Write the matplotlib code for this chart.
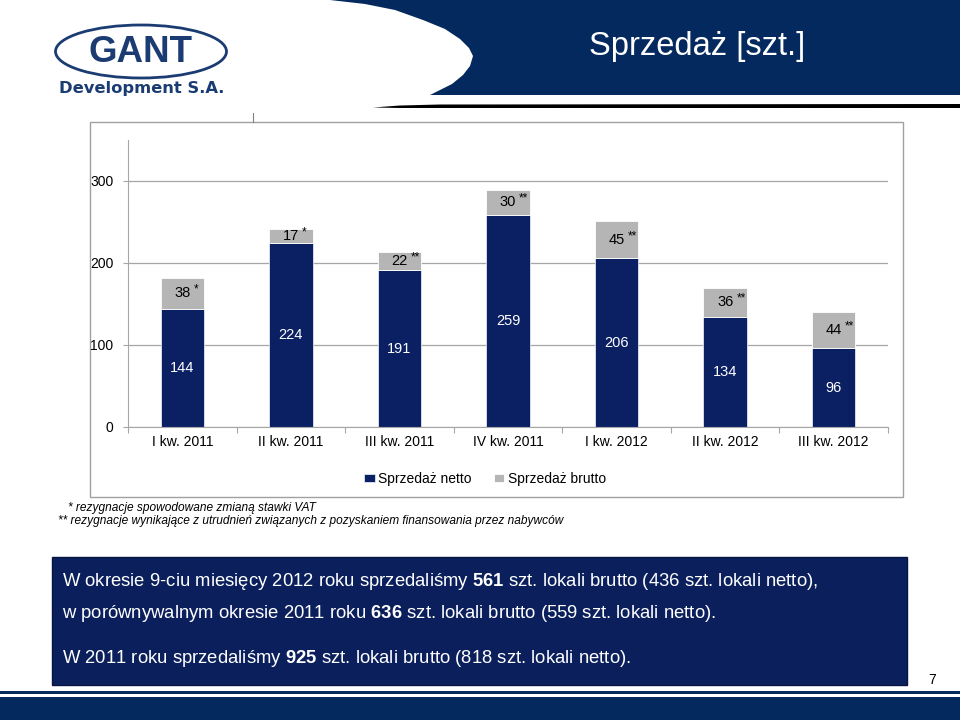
import matplotlib
matplotlib.use("Agg")
import matplotlib.pyplot as plt
from matplotlib.patches import Rectangle, Ellipse, Polygon
import numpy as np

plt.rcParams['font.family'] = ['Liberation Sans', 'DejaVu Sans']
plt.rcParams['mathtext.fontset'] = 'custom'
plt.rcParams['mathtext.rm'] = 'Liberation Sans'
plt.rcParams['mathtext.bf'] = 'Liberation Sans:bold'

# --- data ---
quarters = ["I kw. 2011", "II kw. 2011", "III kw. 2011", "IV kw. 2011",
            "I kw. 2012", "II kw. 2012", "III kw. 2012"]
netto = [144, 224, 191, 259, 206, 134, 96]
rezygnacje = [38, 17, 22, 30, 45, 36, 44]
marks = ["*", "*", "**", "**", "**", "**", "**"]
yticks = [0, 100, 200, 300]
legend_labels = ["Sprzedaż netto", "Sprzedaż brutto"]
footnotes = ["* rezygnacje spowodowane zmianą stawki VAT",
             "** rezygnacje wynikające z utrudnień związanych z pozyskaniem finansowania przez nabywców"]
summary = [r"W okresie 9-ciu miesięcy 2012 roku sprzedaliśmy $\mathbf{561}$ szt. lokali brutto (436 szt. lokali netto),",
           r"w porównywalnym okresie 2011 roku $\mathbf{636}$ szt. lokali brutto (559 szt. lokali netto).",
           r"W 2011 roku sprzedaliśmy $\mathbf{925}$ szt. lokali brutto (818 szt. lokali netto)."]

NAVY_HDR = "#03295f"
NAVY_BAR = "#0b1f63"
NAVY_BOX = "#0a1f5c"
GREY_BAR = "#b5b5b5"
GRID = "#a6a6a6"
W, H = 960, 720

fig = plt.figure(figsize=(W / 100, H / 100), dpi=100)

# background layer in pixel coordinates (slide decoration)
bg = fig.add_axes([0, 0, 1, 1], zorder=0)
bg.set_xlim(0, W)
bg.set_ylim(H, 0)
bg.axis('off')

# header band with curved white cut-out
hdr = [(330, 0), (365, 4), (395, 10), (423, 20), (445, 29), (460, 39),
       (469, 48), (473, 56), (470, 66), (463, 75), (452, 84), (440, 90),
       (430, 95), (960, 95), (960, 0)]
bg.add_patch(Polygon(hdr, closed=True, fc=NAVY_HDR, ec='none'))
bg.add_patch(Polygon([(373, 107.5), (400, 105.5), (440, 104.5), (960, 104),
                      (960, 108), (440, 108), (400, 108)], closed=True,
                     fc='black', ec='none'))
bg.text(697, 55, "Sprzedaż [szt.]", color='white', fontsize=23.5,
        ha='center', va='baseline')

# logo
bg.add_patch(Ellipse((141, 51.5), 171, 53, fill=False, ec='#1b3c73', lw=2))
bg.text(141, 52, "GANT", color='#1b3c73', fontsize=26.5, fontweight='bold',
        ha='center', va='center')
bg.text(142, 88, "Development S.A.", color='#1b3c73', fontsize=11.8,
        fontweight='bold', family='DejaVu Sans', ha='center', va='center')

# chart frame
bg.add_patch(Rectangle((90, 122), 813, 375, fc='white', ec='#a0a0a0', lw=1))
bg.plot([253, 253], [113, 122], color='#808080', lw=0.8)

# summary box
bg.add_patch(Rectangle((52, 557), 855, 128, fc=NAVY_BOX, ec='#061540', lw=1))
for txt, yb in zip(summary, [586, 618, 663]):
    bg.text(62, yb, txt, color='white', fontsize=13.3, ha='left', va='baseline')

bg.text(932, 680, "7", fontsize=10, ha='center', va='center')

# bottom stripes
bg.add_patch(Rectangle((0, 691), W, 3, fc=NAVY_HDR, ec='none'))
bg.add_patch(Rectangle((0, 697), W, 23, fc=NAVY_HDR, ec='none'))

# footnotes
bg.text(68, 508, footnotes[0], fontsize=8.6, style='italic', va='center')
bg.text(58, 521, footnotes[1], fontsize=8.6, style='italic', va='center')

# --- chart ---
ax = fig.add_axes([128 / W, 1 - 427 / H, 760 / W, 287 / H], zorder=2)
ax.patch.set_alpha(0)
x = np.arange(len(quarters))
b1 = ax.bar(x, netto, width=0.4, color=NAVY_BAR, edgecolor='#dfe6f2', lw=0.6)
b2 = ax.bar(x, rezygnacje, width=0.4, bottom=netto, color=GREY_BAR,
            edgecolor='white', lw=0.6)

for i in range(len(x)):
    ax.text(x[i], netto[i] / 2, str(netto[i]), color='white', fontsize=10.5,
            ha='center', va='center')
    yc = netto[i] + rezygnacje[i] / 2
    ax.text(x[i], yc, str(rezygnacje[i]), color='black', fontsize=10.5,
            ha='center', va='center')
    ax.annotate(marks[i], xy=(x[i], yc), xytext=(8, 2.5),
                textcoords='offset points', ha='left', va='center',
                fontsize=8.5, color='black')

ax.set_xlim(-0.5, len(quarters) - 0.5)
ax.set_ylim(0, 350)
ax.set_yticks(yticks)
ax.set_xticks(np.arange(-0.5, len(quarters), 1))
ax.set_xticklabels([])
ax.set_xticks(x, minor=True)
ax.set_xticklabels(quarters, minor=True, fontsize=10)
ax.tick_params(axis='x', which='minor', length=0, pad=6)
ax.tick_params(axis='x', which='major', length=4, color=GRID)
ax.tick_params(axis='y', length=3.5, color=GRID, labelsize=10, pad=7)
ax.yaxis.grid(True, color=GRID, lw=0.9)
ax.set_axisbelow(True)
for s in ['top', 'right']:
    ax.spines[s].set_visible(False)
for s in ['left', 'bottom']:
    ax.spines[s].set_color(GRID)

fig.legend([b1, b2], legend_labels, loc='center',
           bbox_to_anchor=(485 / W, 1 - 479 / H), ncol=2, frameon=False,
           fontsize=10, handlelength=0.75, handleheight=0.45,
           handletextpad=0.25, columnspacing=1.6)

fig.savefig("out.png", dpi=100)
